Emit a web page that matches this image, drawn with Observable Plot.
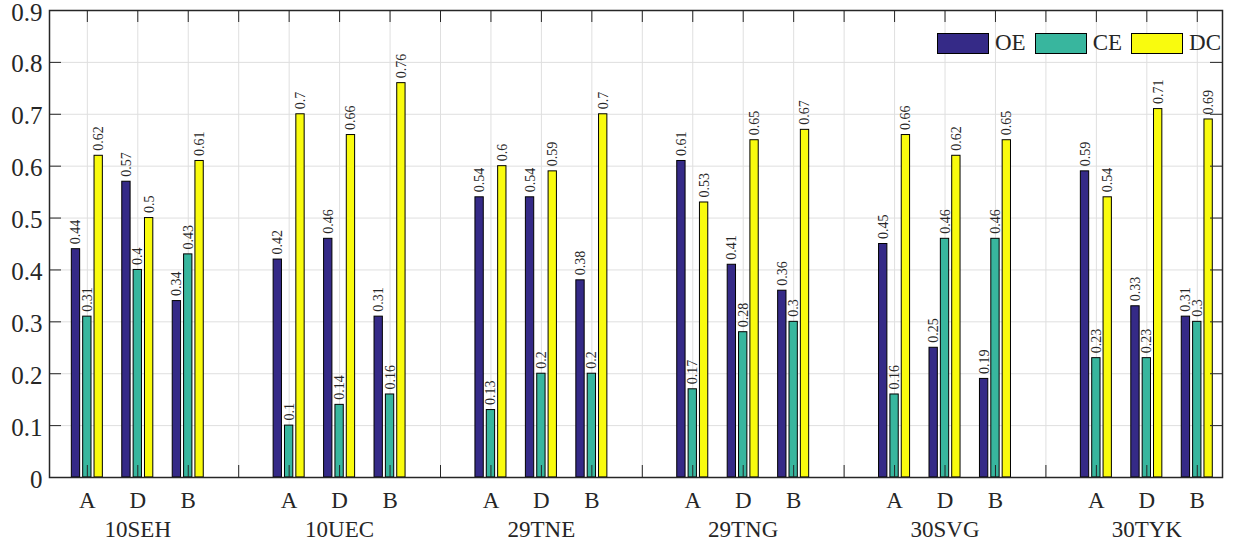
<!DOCTYPE html>
<html>
<head>
<meta charset="utf-8">
<script src="https://cdn.jsdelivr.net/npm/d3@7"></script>
<script src="https://cdn.jsdelivr.net/npm/@observablehq/plot@0.6"></script>
<style>
  html, body { margin: 0; padding: 0; background: #fff; }
  #wrap { position: relative; width: 1233px; height: 545px; font-family: "Liberation Serif", "DejaVu Serif", serif; color: #262626; }
  #legend { position: absolute; left: 937px; top: 33px; display: flex; align-items: center; height: 20px; font-size: 23px; }
  #legend .item { display: flex; align-items: center; margin-right: 9px; }
  #legend .sw { width: 50px; height: 19px; border: 1px solid #000; margin-right: 6px; box-sizing: content-box; }
</style>
</head>
<body>
<div id="wrap"><div id="legend"></div></div>
<script>
const groups = ["10SEH", "10UEC", "29TNE", "29TNG", "30SVG", "30TYK"];
const subsets = ["A", "D", "B"];
const seriesNames = ["OE", "CE", "DC"];
const seriesColors = ["#352a87", "#38b69e", "#f9fb0e"];
// values per group, in subset order A, D, B
const OE = [0.44, 0.57, 0.34,  0.42, 0.46, 0.31,  0.54, 0.54, 0.38,  0.61, 0.41, 0.36,  0.45, 0.25, 0.19,  0.59, 0.33, 0.31];
const CE = [0.31, 0.40, 0.43,  0.10, 0.14, 0.16,  0.13, 0.20, 0.20,  0.17, 0.28, 0.30,  0.16, 0.46, 0.46,  0.23, 0.23, 0.30];
const DC = [0.62, 0.50, 0.61,  0.70, 0.66, 0.76,  0.60, 0.59, 0.70,  0.53, 0.65, 0.67,  0.66, 0.62, 0.65,  0.54, 0.71, 0.69];
const yTicks = [0, 0.1, 0.2, 0.3, 0.4, 0.5, 0.6, 0.7, 0.8, 0.9];
const yTickLabels = ["0", "0.1", "0.2", "0.3", "0.4", "0.5", "0.6", "0.7", "0.8", "0.9"];

const seriesValues = [OE, CE, DC];
const offsets = [-0.225, 0, 0.225];
const barW = 0.165;
const slotsPerGroup = subsets.length + 1;
const nSlots = groups.length * slotsPerGroup - 1;
const allSlots = d3.range(1, nSlots + 1);

const bars = [];
const labelSlots = [];
groups.forEach((g, gi) => {
  subsets.forEach((s, si) => {
    const slot = gi * slotsPerGroup + si + 1;
    labelSlots.push({slot, label: s});
    seriesNames.forEach((name, k) => {
      const v = seriesValues[k][gi * subsets.length + si];
      const cx = slot + offsets[k];
      bars.push({group: g, subset: s, series: name, value: v, cx, x1: cx - barW / 2, x2: cx + barW / 2});
    });
  });
});
const groupCenters = groups.map((g, gi) => ({slot: gi * slotsPerGroup + 2, label: g}));
const slotLabel = new Map(labelSlots.map(d => [d.slot, d.label]));
const groupLabel = new Map(groupCenters.map(d => [d.slot, d.label]));

const W = 1233, H = 545;
const mL = 49, mR = 11, mT = 10, mB = 68;
const plotW = W - mL - mR, plotH = H - mT - mB;
const tickLen = 12;
const ink = "#262626";
const gridCol = "#dfdfdf";

const chart = Plot.plot({
  width: W, height: H,
  marginLeft: mL, marginRight: mR, marginTop: mT, marginBottom: mB,
  style: {fontFamily: "'Liberation Serif', 'DejaVu Serif', serif", fontSize: "22px", color: ink, background: "#fff", overflow: "visible"},
  x: {domain: [0.25, nSlots + 0.5]},
  y: {domain: [0, 0.9]},
  color: {domain: seriesNames, range: seriesColors},
  marks: [
    Plot.gridX(allSlots, {stroke: gridCol, strokeOpacity: 1, strokeWidth: 1}),
    Plot.gridY(yTicks, {stroke: gridCol, strokeOpacity: 1, strokeWidth: 1}),
    Plot.rect(bars, {x1: "x1", x2: "x2", y1: 0, y2: "value", fill: "series", stroke: "#000", strokeWidth: 1}),
    Plot.text(bars, {x: "cx", y: "value", text: d => String(d.value), rotate: -90, textAnchor: "start", lineAnchor: "middle", dy: -5, fontSize: 14, fill: ink}),
    // inward ticks on all four sides
    Plot.tickX(allSlots, {x: d => d, stroke: ink, strokeWidth: 1, insetBottom: plotH - tickLen}),
    Plot.tickX(allSlots, {x: d => d, stroke: ink, strokeWidth: 1, insetTop: plotH - tickLen}),
    Plot.tickY(yTicks, {y: d => d, stroke: ink, strokeWidth: 1, insetRight: plotW - tickLen}),
    Plot.tickY(yTicks, {y: d => d, stroke: ink, strokeWidth: 1, insetLeft: plotW - tickLen}),
    Plot.frame({stroke: ink, strokeWidth: 1.5}),
    Plot.axisY(yTicks, {tickSize: 0, tickPadding: 7, tickFormat: d => yTickLabels[yTicks.indexOf(d)], fontSize: 25, fill: ink, dy: 2, label: null}),
    Plot.axisX(labelSlots.map(d => d.slot), {tickSize: 0, tickPadding: 14, tickFormat: d => slotLabel.get(d), fontSize: 23, fill: ink, label: null}),
    Plot.axisX(groupCenters.map(d => d.slot), {tickSize: 0, tickPadding: 43, tickFormat: d => groupLabel.get(d), fontSize: 23, fill: ink, label: null})
  ]
});
const wrap = document.getElementById("wrap");
wrap.insertBefore(chart, wrap.firstChild);

const legend = document.getElementById("legend");
seriesNames.forEach((n, i) => {
  const item = document.createElement("div");
  item.className = "item";
  const sw = document.createElement("div");
  sw.className = "sw";
  sw.style.background = seriesColors[i];
  const t = document.createElement("span");
  t.textContent = n;
  item.appendChild(sw); item.appendChild(t);
  legend.appendChild(item);
});
</script>
</body>
</html>
